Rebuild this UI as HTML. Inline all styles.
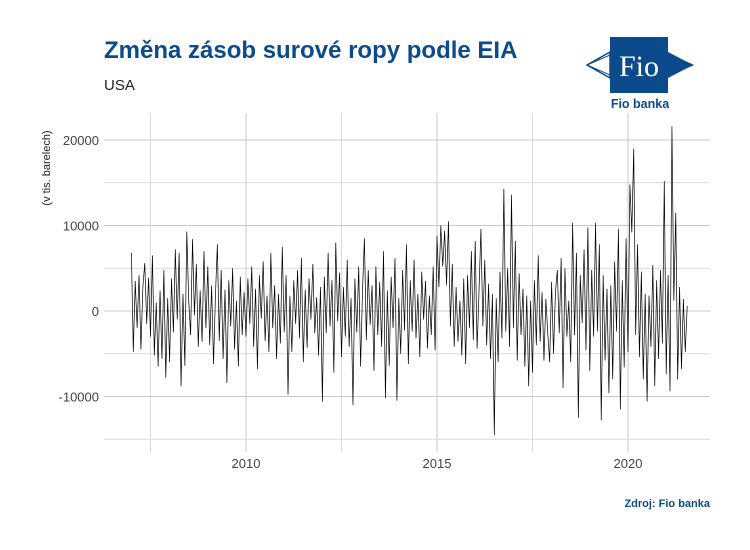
<!DOCTYPE html>
<html><head><meta charset="utf-8"><style>
body{margin:0;background:#fff;}
svg{display:block;font-family:"Liberation Sans",sans-serif;}
</style></head><body>
<svg id="chart" width="750" height="550" viewBox="0 0 750 550">
  <rect width="750" height="550" fill="#fff"/>
  <text x="104" y="58" font-size="24" font-weight="bold" fill="#0b4a8b">Změna zásob surové ropy podle EIA</text>
  <text x="104" y="90" font-size="15" fill="#222">USA</text>
  <g>
    <polygon points="587,65 610,52 610,78" fill="none" stroke="#0b4a8b" stroke-width="1.5"/>
    <polygon points="693,65 668,52 668,78" fill="#0b4a8b"/>
    <polygon points="587,65 640,42 693,65 640,88" fill="none" stroke="#0b4a8b" stroke-width="1"/>
    <rect x="610" y="37" width="58" height="56" fill="#0b4a8b"/>
    <text x="639" y="76" font-family="Liberation Serif,serif" font-size="30" fill="#fff" text-anchor="middle">Fio</text>
    <text x="640" y="108" font-size="12.5" font-weight="bold" fill="#0b4a8b" text-anchor="middle">Fio banka</text>
  </g>
  <text transform="translate(50,168) rotate(-90)" font-size="11" fill="#222" text-anchor="middle">(v tis. barelech)</text>
  <g id="grid"></g>
  <g id="axes"></g>
  <g id="series"></g>
  <text x="710" y="507" font-size="11" font-weight="bold" fill="#0b4a8b" text-anchor="end">Zdroj: Fio banka</text>
</svg>
<script>
const startYear = 2007.0;
const stepYears = 0.05;
const values = [
6800,-4800,3500,-2000,4200,-4500,2800,5600,-1500,3900,-3000,6500,-5200,1000,-6500,2400,-5600,4800,-7800,1500,
-6000,3800,-2500,7200,-1000,6800,-8800,2000,-6400,9300,1200,-2800,8400,-500,5500,-4200,2400,-3600,7000,-2000,
5200,-4000,3000,-6200,1800,7800,-3500,4800,-5600,2500,-8400,3600,-1800,5000,-4500,1200,-6500,4000,-2800,2200,
-3000,3800,-1500,5200,-4200,2600,-6800,4200,-900,5800,-3500,1800,-4800,6800,-2000,3000,-5600,2000,-3800,7500,
-2500,4200,-9800,1800,-4800,3600,-1500,4800,-3200,6200,-6000,2500,-4300,3800,-1000,5500,-2600,1600,-5200,2800,
-10600,4000,-2600,6800,-1800,3600,-7200,8000,-1200,4500,-5400,2800,-3000,6000,-4200,1500,-11000,3800,-2500,5200,
-6500,2400,8500,-3400,4800,-1600,3000,-7000,5200,-2800,3400,-4200,7000,-10200,2400,-6400,4000,-2000,6200,-10500,
1500,-5000,4800,-2300,7800,-6200,3600,-2400,6000,-3200,2000,-5400,4600,-1000,3500,-4400,1800,-2800,5200,-4600,
8800,2800,10000,5200,9400,3000,10500,-1800,5500,-4200,2800,-3600,1200,-5200,3800,-6200,4200,-2000,7000,-3400,
8200,-4400,2400,9600,-1800,6000,-4000,3200,-5600,2000,-14500,1500,-6000,4600,-3200,14300,-2400,5000,-4200,13600,
-2000,8200,-5800,4400,-2800,2600,-6500,1800,-8800,1200,-7200,3600,-4000,6500,-3600,2200,-5800,1400,-2600,-6000,
3400,-5000,2200,4800,-2600,6200,-9000,5000,-3000,1200,-6000,10300,-2800,6800,-12500,4200,-1400,7200,-4600,9800,
-7000,4800,-3000,10300,-2400,7800,-12800,4200,-5800,2600,-9600,3000,-8000,5800,-2400,9600,-11500,3600,-6600,8500,
-4800,14800,9200,19000,-2800,7800,-5400,4600,-8000,2000,-10600,1800,-4200,5400,-8800,3600,-5600,4800,-3800,15200,
-7400,4200,-9400,21600,1200,11500,-8000,2800,-6800,1400,-4800,600
];
const xMajor = [2010, 2015, 2020];
const xMinor = [2007.5, 2012.5, 2017.5];
const yMajor = [-10000, 0, 10000, 20000];
const yMinor = [-15000, -5000, 5000, 15000];
const yTickLabels = ["-10000", "0", "10000", "20000"];
const xTickLabels = ["2010", "2015", "2020"];

const NS = "http://www.w3.org/2000/svg";
const px = { left: 104, right: 710, top: 113, bottom: 452 };
const xScale = y => 246 + (y - 2010) * 38.2;
const yScale = v => 311 - v * 0.00855;
function mk(tag, attrs, parent) {
  const e = document.createElementNS(NS, tag);
  for (const k in attrs) e.setAttribute(k, attrs[k]);
  parent.appendChild(e);
  return e;
}
const grid = document.getElementById('grid');
const axes = document.getElementById('axes');
xMinor.forEach(v => {
  const l = mk('line', {x1: xScale(v), x2: xScale(v), y1: px.top, y2: px.bottom, stroke: '#d0d0d0', 'stroke-width': 0.8}, grid);
  
  
});
yMinor.forEach(v => {
  const l = mk('line', {x1: px.left, x2: px.right, y1: yScale(v), y2: yScale(v), stroke: '#d0d0d0', 'stroke-width': 0.8}, grid);
  
  
});
xMajor.forEach((v, i) => {
  const l = mk('line', {x1: xScale(v), x2: xScale(v), y1: px.top, y2: px.bottom, stroke: '#c8c8c8', 'stroke-width': 1}, grid);
  
  
  const t = mk('text', {x: xScale(v), y: 468, 'font-size': 13, fill: '#444', 'text-anchor': 'middle'}, axes);
  t.textContent = xTickLabels[i];
  
  
});
yMajor.forEach((v, i) => {
  const l = mk('line', {x1: px.left, x2: px.right, y1: yScale(v), y2: yScale(v), stroke: '#c8c8c8', 'stroke-width': 1}, grid);
  
  
  const t = mk('text', {x: 99, y: yScale(v) + 5, 'font-size': 13, fill: '#444', 'text-anchor': 'end'}, axes);
  t.textContent = yTickLabels[i];
  
  
});
const d = values.map((v, i) => (i ? 'L' : 'M') + xScale(startYear + i * stepYears).toFixed(2) + ' ' + yScale(v).toFixed(2)).join(' ');
const path = mk('path', {d: d, fill: 'none', stroke: '#000', 'stroke-width': 0.7, 'stroke-linejoin': 'miter'}, document.getElementById('series'));


</script>
</body></html>
